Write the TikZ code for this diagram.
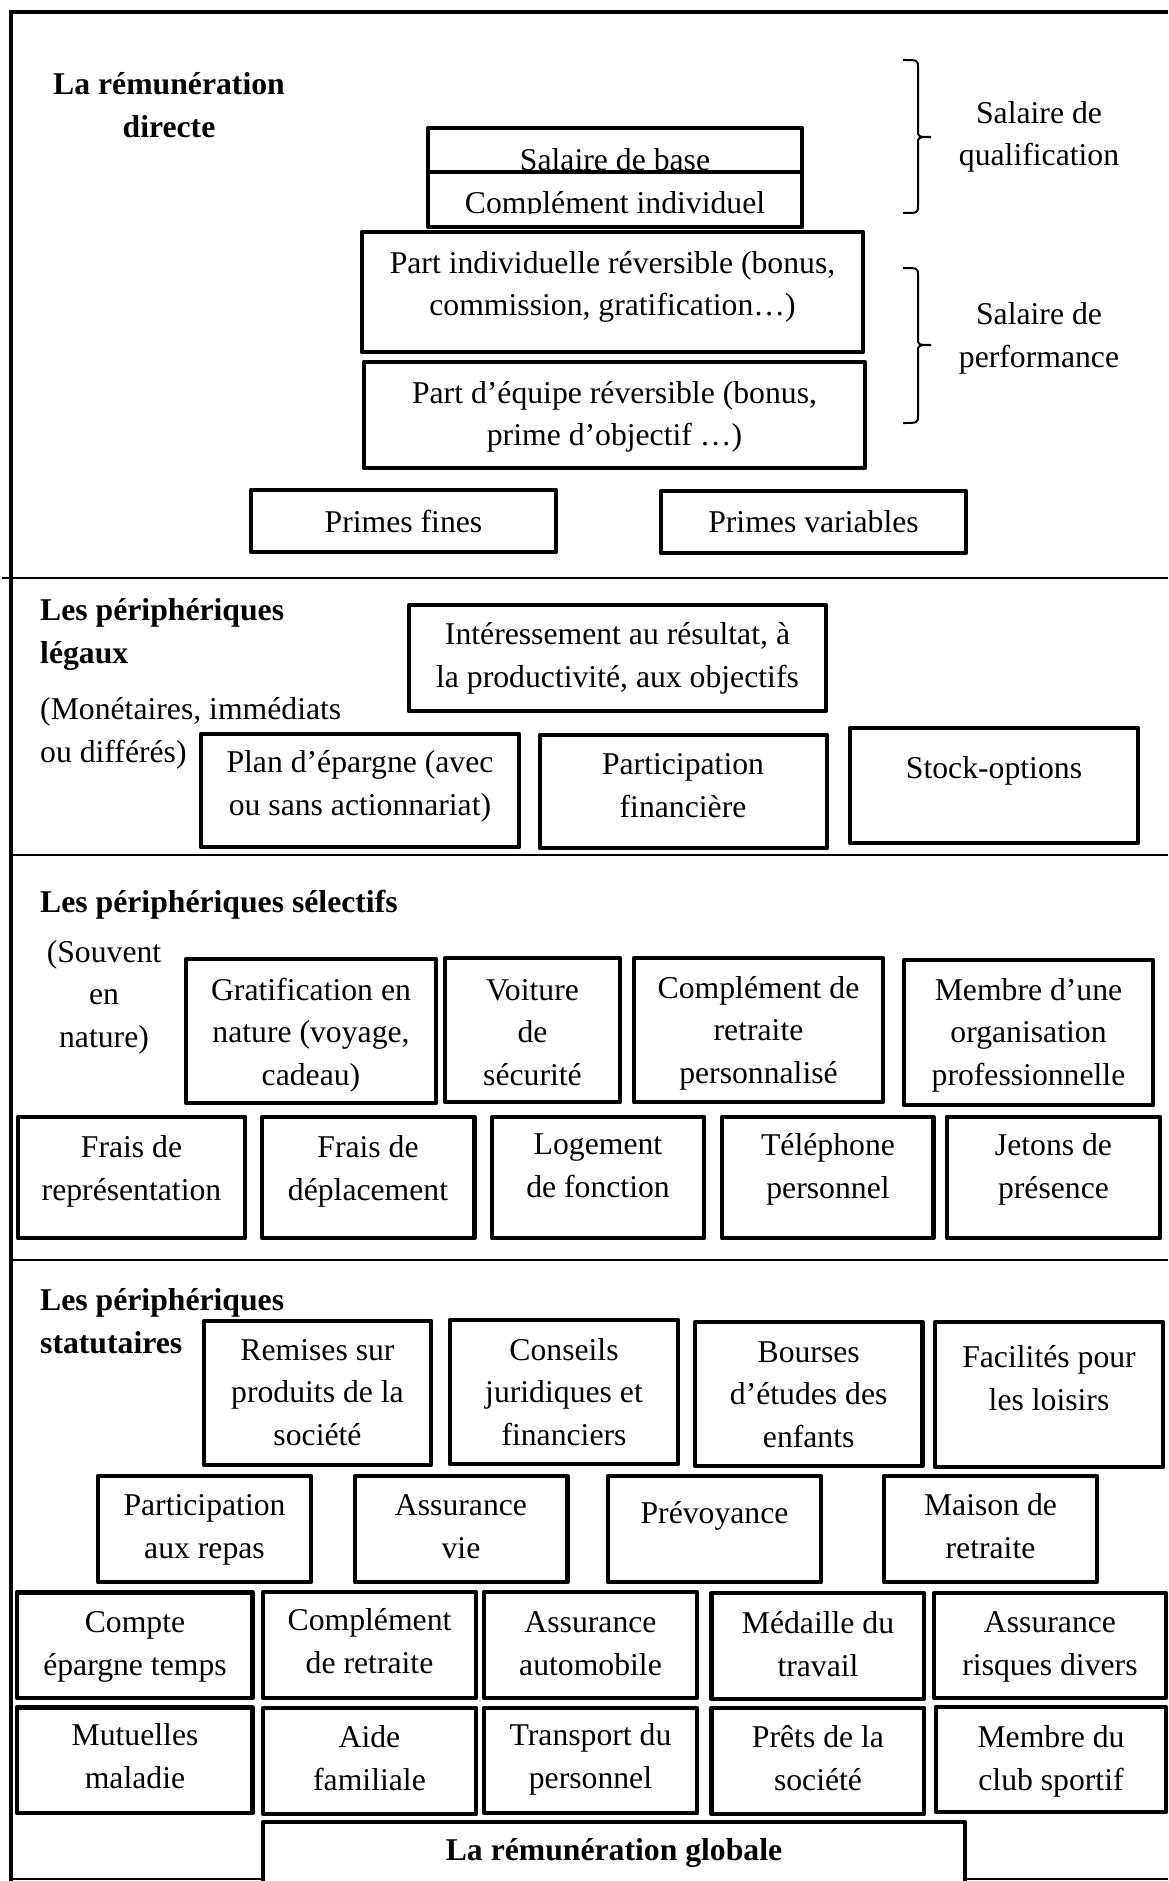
\documentclass[tikz,border=0pt]{standalone}
\usepackage{fontspec}
\setmainfont{Liberation Serif}

\begin{document}
\begin{tikzpicture}[x=1pt,y=-1pt,
  box/.style={draw,line width=4.5pt,line join=round},
  txt/.style={anchor=base,align=center,inner sep=0pt,font=\fontsize{31.7}{42.5}\selectfont},
  titre/.style={anchor=base west,align=left,inner sep=0pt,font=\fontsize{31.7}{42.5}\selectfont\bfseries},
  sep/.style={line width=2pt},
  accolade/.style={line width=2pt}]
\useasboundingbox (0,0) rectangle (1168,1881);
\draw[line width=4.5pt] (1168,12) -- (11,12) -- (11,1881);
\draw[sep] (2,578) -- (1168,578);
\draw[sep] (9,855) -- (1168,855);
\draw[sep] (9,1260) -- (1168,1260);
\draw[sep] (11,1879) -- (263,1879);
\draw[sep] (965,1879) -- (1168,1879);

\node[titre,anchor=base,align=center] (directe) at (169,137.5) {La rémunération\\directe};
\begin{scope}
\clip (428,128) rectangle (802,170);
\node[txt] (base) at (615,171) {Salaire de base};
\end{scope}
\begin{scope}
\clip (428,172) rectangle (802,213.5);
\node[txt] (complind) at (615,213) {Complément individuel};
\end{scope}
\draw[box] (428,128) rectangle (802,172);
\draw[box] (428,172) rectangle (802,227);
\draw[box] (362,232) rectangle (863,352);
\node[txt] (partind) at (612.5,315.5) {Part individuelle réversible (bonus,\\commission, gratification…)};
\draw[box] (364,362) rectangle (865,468);
\node[txt] (partequipe) at (614.5,445.5) {Part d’équipe réversible (bonus,\\prime d’objectif …)};
\draw[box] (251,490) rectangle (556,552);
\node[txt] (pfines) at (403.5,532) {Primes fines};
\draw[box] (661,491) rectangle (966,553);
\node[txt] (pvariables) at (813.5,532) {Primes variables};
\draw[accolade] (903,60) .. controls (918,60) .. (918,68) -- (918,130) .. controls (918,137) .. (931,137) .. controls (918,137) .. (918,144) -- (918,205) .. controls (918,213) .. (903,213);
\node[txt] (qualif) at (1039,166) {Salaire de\\qualification};
\draw[accolade] (903,268) .. controls (918,268) .. (918,276) -- (918,338) .. controls (918,345) .. (931,345) .. controls (918,345) .. (918,352) -- (918,415) .. controls (918,423) .. (903,423);
\node[txt] (perf) at (1039,367) {Salaire de\\performance};

\node[titre] (legaux) at (40,663) {Les périphériques\\légaux};
\node[txt,anchor=base west,align=left] (monet) at (40,762) {(Monétaires, immédiats\\ou différés)};
\draw[box] (409,605) rectangle (826,711);
\node[txt] (interes) at (617.5,687) {Intéressement au résultat, à\\la productivité, aux objectifs};
\draw[box] (201,734) rectangle (519,847);
\node[txt] (plan) at (360,815) {Plan d’épargne (avec\\ou sans actionnariat)};
\draw[box] (540,735) rectangle (827,848);
\node[txt] (partfin) at (683,817) {Participation\\financière};
\draw[box] (850,728) rectangle (1138,843);
\node[txt] (stock) at (994,778) {Stock-options};

\node[titre] (selectifs) at (40,912) {Les périphériques sélectifs};
\node[txt] (souvent) at (104,1047) {(Souvent\\en\\nature)};
\draw[box] (186,959) rectangle (436,1103);
\node[txt] (gratif) at (311,1085) {Gratification en\\nature (voyage,\\cadeau)};
\draw[box] (445,958) rectangle (620,1102);
\node[txt] (voiture) at (532.5,1085) {Voiture\\de\\sécurité};
\draw[box] (634,958) rectangle (883,1102);
\node[txt] (complperso) at (758.5,1083) {Complément de\\retraite\\personnalisé};
\draw[box] (904,960) rectangle (1153,1105);
\node[txt] (orga) at (1028.5,1085) {Membre d’une\\organisation\\professionnelle};
\draw[box] (18,1117) rectangle (245,1238);
\node[txt] (repres) at (131.5,1200) {Frais de\\représentation};
\draw[box] (262,1117) rectangle (474.5,1238);
\node[txt] (deplac) at (368,1200) {Frais de\\déplacement};
\draw[box] (492,1117) rectangle (704,1238);
\node[txt] (logement) at (598,1197) {Logement\\de fonction};
\draw[box] (722,1117) rectangle (933.5,1238);
\node[txt] (telephone) at (828,1198) {Téléphone\\personnel};
\draw[box] (947,1117) rectangle (1160,1238);
\node[txt] (jetons) at (1053.5,1198) {Jetons de\\présence};

\node[titre] (statut) at (40,1353) {Les périphériques\\statutaires};
\draw[box] (204,1321) rectangle (431,1465);
\node[txt] (remises) at (317.5,1445) {Remises sur\\produits de la\\société};
\draw[box] (450,1320) rectangle (678,1464);
\node[txt] (conseils) at (564,1445) {Conseils\\juridiques et\\financiers};
\draw[box] (695,1322) rectangle (922.5,1466);
\node[txt] (bourses) at (808.7,1447) {Bourses\\d’études des\\enfants};
\draw[box] (935,1322) rectangle (1163,1467);
\node[txt] (loisirs) at (1049,1410) {Facilités pour\\les loisirs};
\draw[box] (98,1476) rectangle (311,1582);
\node[txt] (repas) at (204.5,1558) {Participation\\aux repas};
\draw[box] (355,1476) rectangle (567.5,1582);
\node[txt] (assvie) at (461,1558) {Assurance\\vie};
\draw[box] (608,1476) rectangle (821,1582);
\node[txt] (prevoy) at (714.5,1523) {Prévoyance};
\draw[box] (884,1476) rectangle (1097,1582);
\node[txt] (maison) at (990.5,1558) {Maison de\\retraite};
\draw[box] (17,1592.5) rectangle (252.6,1698);
\node[txt] (compte) at (135,1675) {Compte\\épargne temps};
\draw[box] (263,1592) rectangle (476,1698);
\node[txt] (complret) at (369.5,1673) {Complément\\de retraite};
\draw[box] (484,1592) rectangle (697,1698);
\node[txt] (assauto) at (590.5,1675) {Assurance\\automobile};
\draw[box] (711.6,1593) rectangle (924,1699);
\node[txt] (medaille) at (818,1676) {Médaille du\\travail};
\draw[box] (934,1593) rectangle (1166,1698);
\node[txt] (risques) at (1050,1675) {Assurance\\risques divers};
\draw[box] (17,1707.5) rectangle (252.6,1813);
\node[txt] (mutuelles) at (135,1788) {Mutuelles\\maladie};
\draw[box] (263,1708) rectangle (476,1814);
\node[txt] (aide) at (369.5,1790) {Aide\\familiale};
\draw[box] (484,1708) rectangle (697,1813);
\node[txt] (transport) at (590.5,1788) {Transport du\\personnel};
\draw[box] (711.6,1708) rectangle (924,1814);
\node[txt] (prets) at (818,1790) {Prêts de la\\société};
\draw[box] (936,1707) rectangle (1166,1812);
\node[txt] (club) at (1051,1790) {Membre du\\club sportif};
\draw[box] (263,1822) rectangle (965,1900);
\node[txt,font=\fontsize{31.7}{42.5}\selectfont\bfseries] (globale) at (614,1860) {La rémunération globale};
\end{tikzpicture}
\end{document}
